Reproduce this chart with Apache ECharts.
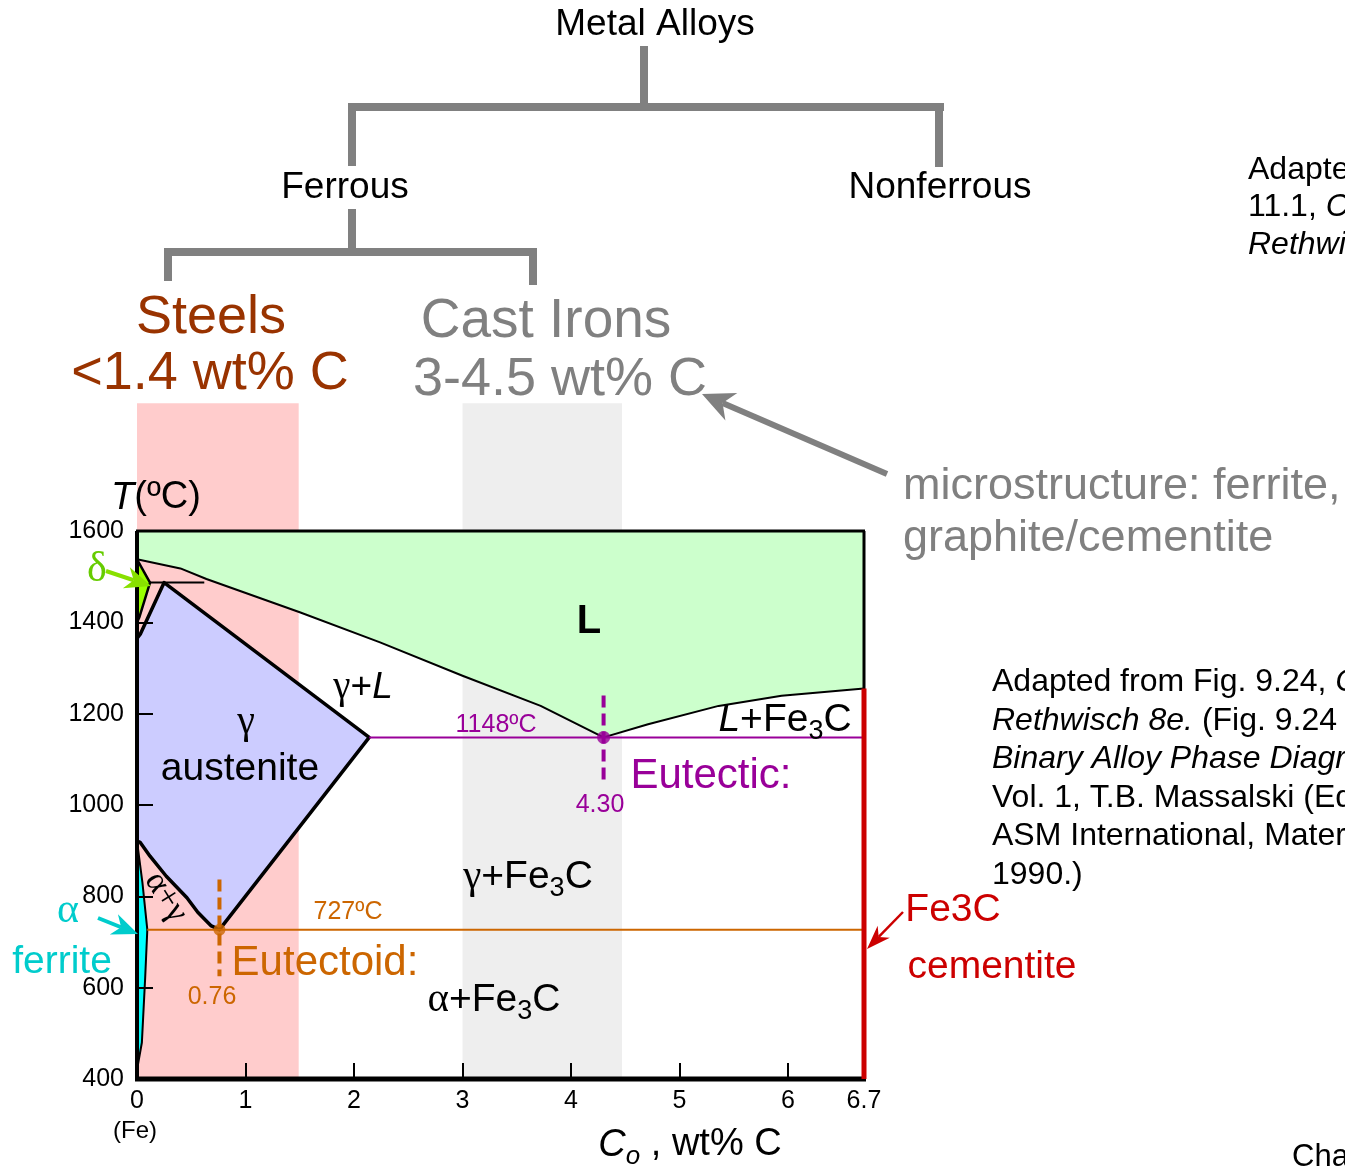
<!DOCTYPE html>
<html><head><meta charset="utf-8">
<script src="https://cdn.jsdelivr.net/npm/echarts@6/dist/echarts.min.js"></script>
<style>html,body{margin:0;padding:0;background:#fff}#c{width:1345px;height:1169px}</style>
</head><body><div id="c"></div><script>
// ---------- data (wt% C, temperature ºC) ----------
const xLabelValues = [0, 1, 2, 3, 4, 5, 6, 6.7];
const xTickValues = [1, 2, 3, 4, 5, 6];
const xMin = 0, xMax = 6.7;
const yMin = 400, yMax = 1600, yStep = 200;

const steelBand = [0, 1.49];
const castIronBand = [3.0, 4.47];
const bandTopT = 1880;

const liquidZone = [[0,1600],[6.7,1600],[6.7,1255],[5.94,1239],[5.36,1217],[4.71,1177],[4.3,1148],[3.72,1217],[3.0,1283],[2.24,1356],[1.5,1422],[0.64,1495],[0.40,1518],[0,1538]];
const austeniteZone = [[0,1365],[0.03,1374],[0.25,1487],[2.14,1148],[0.76,727],[0.68,736],[0.56,765],[0.46,797],[0.27,844],[0.12,888],[0.03,918],[0,921]];
const deltaZone = [[0,1532],[0.12,1487],[0.02,1410],[0,1402]];
const ferriteZone = [[0,921],[0.05,830],[0.095,727],[0.075,620],[0.045,480],[0,420]];

const liquidusLine = [[0,1538],[0.40,1518],[0.64,1495],[1.5,1422],[2.24,1356],[3.0,1283],[3.72,1217],[4.3,1148],[4.71,1177],[5.36,1217],[5.94,1239],[6.7,1255]];
const deltaLine = [[0,1538],[0.12,1487],[0.02,1410],[0,1400]];
const peritecticLine = [[0.12,1487],[0.62,1487]];
const austeniteLine = [[0,1365],[0.03,1374],[0.25,1487],[2.14,1148],[0.76,727],[0.68,736],[0.56,765],[0.46,797],[0.27,844],[0.12,888],[0.03,918],[0,921]];
const ferriteLine = [[0,921],[0.05,830],[0.095,727],[0.075,620],[0.045,480],[0,420]];
const eutecticLine = [[2.14,1148],[6.7,1148]];
const eutectoidLine = [[0.095,727],[6.7,727]];
const eutecticDash = [[4.3,1240],[4.3,1045]];
const eutectoidDash = [[0.76,837],[0.76,625]];
const cementiteLine = [[6.7,1255],[6.7,400]];
const eutecticPoint = [4.3,1148];
const eutectoidPoint = [0.76,727];

// ---------- styles ----------
const FONT = "'Liberation Sans', Arial, sans-serif";
const SERIF = "'Liberation Serif', 'Times New Roman', serif";
const PURPLE = '#990099', ORANGE = '#cc6600', RED = '#cc0000', GREY = '#808080', BROWN = '#993300';

function polygonSeries(pts, fill, z) {
  return { type:'custom', data: pts, z, clip:false, silent:true,
    renderItem(params, api) {
      if (params.dataIndex !== 0) return;
      return { type:'polygon', shape:{ points: pts.map(p => api.coord(p)) }, style:{ fill } };
    } };
}
function bandSeries(band, fill) {
  const corners = [[band[0], yMin], [band[1], bandTopT]];
  return { type:'custom', data: corners, z:1, clip:false, silent:true,
    renderItem(params, api) {
      if (params.dataIndex !== 0) return;
      const a = api.coord(corners[0]), b = api.coord(corners[1]);
      return { type:'rect', shape:{ x:a[0], y:b[1], width:b[0]-a[0], height:a[1]-b[1] }, style:{ fill } };
    } };
}
function lineSeries(pts, color, width, z, type) {
  return { type:'line', data: pts, symbol:'none', showSymbol:false, silent:true, z,
    lineStyle:{ color, width, type: type || 'solid', join:'round' } };
}
function frameSeries() {
  const c = [[xMin, yMin], [xMax, yMax]];
  return { type:'custom', data:c, z:6, clip:false, silent:true,
    renderItem(params, api) {
      if (params.dataIndex !== 0) return;
      const a = api.coord(c[0]), b = api.coord(c[1]);
      const L = a[0], B = a[1], R = b[0], T = b[1];
      return { type:'group', children:[
        { type:'line', shape:{x1:L-1,y1:T,x2:R+1,y2:T}, style:{stroke:'#000', lineWidth:3} },
        { type:'line', shape:{x1:R,y1:T,x2:R,y2:B}, style:{stroke:'#000', lineWidth:3} },
        { type:'line', shape:{x1:L,y1:T,x2:L,y2:B}, style:{stroke:'#000', lineWidth:4} },
        { type:'line', shape:{x1:L-2,y1:B,x2:R+2,y2:B}, style:{stroke:'#000', lineWidth:5} }
      ]};
    } };
}

function rich(size, color, lh) {
  const base = { fontSize:size, fontFamily:FONT, fill:color, color, lineHeight: lh || Math.round(size*1.3) };
  return {
    n: base,
    i: Object.assign({}, base, { fontStyle:'italic' }),
    b: Object.assign({}, base, { fontWeight:'bold' }),
    g: Object.assign({}, base, { fontFamily:SERIF, fontSize:Math.round(size*1.05) }),
    s: { fontSize:Math.round(size*0.68), fontFamily:FONT, fill:color, color, verticalAlign:'bottom', lineHeight:Math.round(size*0.68) },
    si: { fontSize:Math.round(size*0.68), fontFamily:FONT, fontStyle:'italic', fill:color, color, verticalAlign:'bottom', lineHeight:Math.round(size*0.68) }
  };
}
function txt(x, y, text, size, color, opts) {
  opts = opts || {};
  return { type:'text', x, y, z:100, silent:true, rotation: opts.rotation || 0,
    style:{ text, rich: rich(size, color, opts.lh), fontSize:size, fontFamily:FONT, fill:color,
      align: opts.align || 'center', verticalAlign: opts.va || 'middle', lineHeight: opts.lh } };
}
function arrow(x1, y1, x2, y2, color, w, hl, hw) {
  const a = Math.atan2(y2-y1, x2-x1), c = Math.cos(a), s = Math.sin(a);
  const bx = x2 - hl*c, by = y2 - hl*s;
  const nx = x2 - hl*0.7*c, ny = y2 - hl*0.7*s;
  const px = -s*hw/2, py = c*hw/2;
  return [
    { type:'line', z:100, shape:{x1, y1, x2:nx, y2:ny}, style:{stroke:color, lineWidth:w} },
    { type:'polygon', z:100, shape:{ points:[[x2,y2],[bx+px,by+py],[nx,ny],[bx-px,by-py]] }, style:{fill:color} }
  ];
}
function seg(x1,y1,x2,y2){ return { type:'line', z:100, shape:{x1,y1,x2,y2}, style:{stroke:GREY, lineWidth:8} }; }

const graphics = [
  // classification tree
  seg(644,46,644,107), seg(348,107,944,107), seg(352,103,352,166), seg(939,103,939,167),
  seg(352,209,352,252), seg(164,252,537,252), seg(168,248,168,281), seg(533,248,533,285),
  txt(655, 25, 'Metal Alloys', 37, '#000'),
  txt(345, 188, 'Ferrous', 37, '#000'),
  txt(940, 188, 'Nonferrous', 37, '#000'),
  txt(211, 318, 'Steels', 54, BROWN),
  txt(210, 374, '<1.4 wt% C', 54, BROWN),
  txt(546, 322, 'Cast Irons', 55, GREY),
  txt(560, 380, '3-4.5 wt% C', 54, GREY),
  ...arrow(887, 474, 702, 394, GREY, 6, 32, 30),
  txt(903, 487, 'microstructure: ferrite,', 45, GREY, {align:'left'}),
  txt(903, 539, 'graphite/cementite', 45, GREY, {align:'left'}),
  txt(1248, 151, '{n|Adapted from Fig.}\n{n|11.1, }{i|Callister &}\n{i|Rethwisch 8e.}', 32, '#000', {align:'left', va:'top', lh:37.5}),
  txt(992, 663, '{n|Adapted from Fig. 9.24, }{i|Callister &}\n{i|Rethwisch 8e.}{n| (Fig. 9.24 adapted from}\n{i|Binary Alloy Phase Diagrams, }{n|2nd ed.,}\n{n|Vol. 1, T.B. Massalski (Ed.-in-Chief),}\n{n|ASM International, Materials Park, OH,}\n{n|1990.)}', 32, '#000', {align:'left', va:'top', lh:38.5}),
  txt(1292, 1157, 'Chapter 11 - 3', 31, '#000', {align:'left'}),
  // axis titles
  txt(156, 498, '{i|T}{n|(ºC)}', 38, '#000'),
  txt(690, 1145, '{i|C}{si|o}{n| , wt% C}', 38, '#000'),
  txt(135, 1131, '(Fe)', 24, '#000'),
  // phase labels
  txt(589, 622, '{b|L}', 40, '#000'),
  txt(363, 688, '{g|γ}{n|+}{i|L}', 37, '#000'),
  txt(246, 722, '{g|γ}', 38, '#000'),
  txt(240, 769, 'austenite', 39, '#000'),
  txt(785, 720, '{i|L}{n|+Fe}{s|3}{n|C}', 39, '#000'),
  txt(528, 877, '{g|γ}{n|+Fe}{s|3}{n|C}', 39, '#000'),
  txt(494, 1000, '{g|α}{n|+Fe}{s|3}{n|C}', 39, '#000'),
  txt(166, 897, '{g|α+γ}', 32, '#000', {rotation: -1.01}),
  txt(496, 725, '1148ºC', 25, PURPLE),
  txt(711, 776, 'Eutectic:', 42, PURPLE),
  txt(600, 805, '4.30', 25, PURPLE),
  txt(348, 912, '727ºC', 25, ORANGE),
  txt(325, 963, 'Eutectoid:', 42, ORANGE),
  txt(212, 997, '0.76', 25, ORANGE),
  txt(97, 570, '{g|δ}', 40, '#66cc00'),
  ...arrow(106, 571, 151, 586, '#88e000', 4, 26, 22),
  txt(68, 911, '{g|α}', 40, '#00cccc'),
  txt(62, 962, 'ferrite', 39, '#00cccc'),
  ...arrow(98, 918, 138, 934, '#00cccc', 4, 26, 22),
  txt(953, 910, 'Fe3C', 39, RED),
  txt(992, 967, 'cementite', 39, RED),
  ...arrow(903, 912, 867, 949, RED, 2.5, 24, 17)
];

const chart = echarts.init(document.getElementById('c'), null, { renderer:'canvas', width:1345, height:1169 });
chart.setOption({
  animation:false,
  backgroundColor:'#fff',
  grid:{ left:137, right:481, top:531, bottom:90, containLabel:false },
  xAxis:{ type:'value', min:xMin, max:xMax, z:10,
    axisLine:{ show:false },
    splitLine:{ show:false },
    axisTick:{ show:true, inside:true, length:16, lineStyle:{ color:'#000', width:2 }, customValues:xTickValues },
    axisLabel:{ show:true, margin:10, fontSize:25, fontFamily:FONT, color:'#000', customValues:xLabelValues,
      formatter: v => String(v) } },
  yAxis:{ type:'value', min:yMin, max:yMax, interval:yStep, z:10,
    axisLine:{ show:false },
    splitLine:{ show:false },
    axisTick:{ show:true, inside:true, length:16, lineStyle:{ color:'#000', width:2 } },
    axisLabel:{ show:true, margin:13, fontSize:25, fontFamily:FONT, color:'#000', formatter: v => String(v) } },
  series:[
    bandSeries(steelBand, '#ffcccc'),
    bandSeries(castIronBand, '#eeeeee'),
    polygonSeries(liquidZone, '#ccffcc', 2),
    polygonSeries(austeniteZone, '#ccccff', 2),
    polygonSeries(deltaZone, '#99ff00', 2),
    polygonSeries(ferriteZone, '#00ffff', 2),
    lineSeries(liquidusLine, '#000', 2, 5),
    lineSeries(deltaLine, '#000', 2.5, 5),
    lineSeries(peritecticLine, '#000', 2, 5),
    lineSeries(austeniteLine, '#000', 3.5, 5),
    lineSeries(ferriteLine, '#000', 2, 5),
    lineSeries(eutecticLine, PURPLE, 2, 5),
    lineSeries(eutectoidLine, ORANGE, 2, 5),
    lineSeries(eutecticDash, PURPLE, 4, 5, [12, 6]),
    lineSeries(eutectoidDash, ORANGE, 4, 5, [12, 6]),
    frameSeries(),
    lineSeries(cementiteLine, RED, 5, 7),
    { type:'scatter', data:[eutecticPoint], symbolSize:13, itemStyle:{ color:PURPLE }, z:8, silent:true },
    { type:'scatter', data:[eutectoidPoint], symbolSize:12, itemStyle:{ color:ORANGE }, z:8, silent:true }
  ],
  graphic: graphics
});
</script></body></html>
